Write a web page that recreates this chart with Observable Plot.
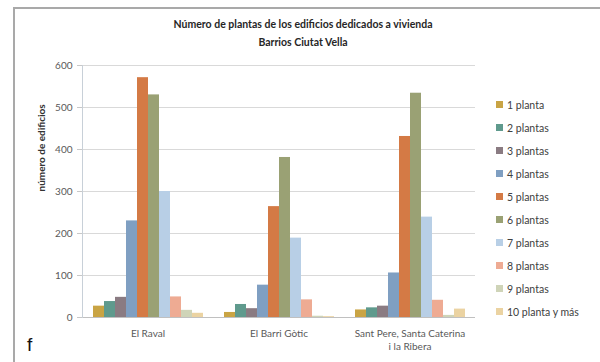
<!DOCTYPE html>
<html>
<head>
<meta charset="utf-8">
<script src="https://cdn.jsdelivr.net/npm/d3@7"></script>
<script src="https://cdn.jsdelivr.net/npm/@observablehq/plot@0.6"></script>
<style>
  body { margin: 0; background: #fff; }
  #root { position: relative; width: 600px; height: 362px; overflow: hidden; background: #fff; font-family: Lato, "Open Sans", sans-serif; }
  #frame { position: absolute; left: 13px; top: 7px; width: 600px; height: 420px; border: 2px solid #a9a9a9; box-sizing: border-box; }
  #title { position: absolute; top: 15px; left: 0; width: 606px; text-align: center; font-weight: bold; font-size: 10.5px; line-height: 18px; color: #262626; }
  #chart { position: absolute; top: 55px; left: 0; }
  #legend { position: absolute; left: 496px; top: 93px; font-size: 10.5px; color: #404040; }
  .item { height: 23px; display: flex; align-items: center; }
  .sw { width: 7px; height: 7px; margin-right: 4px; }
  #f { position: absolute; left: 27px; top: 334px; font: 19px "Liberation Sans", sans-serif; color: #111; }
</style>
</head>
<body>
<div id="root">
  <div id="frame"></div>
  <div id="title">Número de plantas de los edificios dedicados a vivienda<br>Barrios Ciutat Vella</div>
  <div id="chart"></div>
  <div id="legend"></div>
  <div id="f">f</div>
</div>
<script>
const districts = ["El Raval", "El Barri Gòtic", "Sant Pere, Santa Caterina i la Ribera"];
const districtLabels = ["El Raval", "El Barri Gòtic", "Sant Pere, Santa Caterina\ni la Ribera"];
const series = ["1 planta", "2 plantas", "3 plantas", "4 plantas", "5 plantas", "6 plantas", "7 plantas", "8 plantas", "9 plantas", "10 planta y más"];
const colors = ["#c9a444", "#5f9a8d", "#8a7b82", "#7f9fc2", "#d47a45", "#9aa174", "#b8cfe6", "#eeab93", "#cfd4b8", "#ebd3a2"];
const raval = [27, 38, 48, 230, 571, 530, 300, 49, 17, 10];
const gotic = [12, 31, 21, 77, 264, 381, 189, 42, 3, 2];
const santPere = [18, 23, 27, 106, 431, 534, 239, 41, 5, 20];
const yTicks = [0, 100, 200, 300, 400, 500, 600];

const valuesByDistrict = [raval, gotic, santPere];
const data = [];
districts.forEach((d, i) => series.forEach((s, j) => data.push({district: d, series: s, value: valuesByDistrict[i][j]})));

const chart = Plot.plot({
  width: 600,
  height: 307,
  marginLeft: 81,
  marginRight: 124,
  marginTop: 10,
  marginBottom: 45,
  style: {fontFamily: "Lato, 'Open Sans', sans-serif", fontSize: "10px", color: "#595959", background: "transparent", overflow: "visible"},
  fx: {domain: districts, padding: 0, label: null},
  x: {domain: series, paddingInner: 0, paddingOuter: 0.78, axis: null},
  y: {domain: [0, 600], label: null},
  color: {domain: series, range: colors},
  marks: [
    Plot.gridY(yTicks.slice(1), {stroke: "#d9d9d9", strokeOpacity: 1}),
    Plot.barY(data, {fx: "district", x: "series", y: "value", fill: "series"}),
    Plot.ruleY([0], {stroke: "#c0c0c0"}),
    Plot.frame({anchor: "left", facetAnchor: "left", stroke: "#c8d0d8"}),
    Plot.axisY(yTicks, {anchor: "left", tickSize: 5, tickPadding: 5, stroke: "#c8c8c8", fill: "#595959", label: null, fontSize: 10}),
    Plot.text([districts[0]], {fx: d => d, text: () => "número de edificios", frameAnchor: "left", rotate: -90, dx: -41, fontWeight: "bold", fill: "#333", fontSize: 10}),
    Plot.axisFx({anchor: "bottom", tickSize: 0, tickPadding: 10, label: null, fill: "#595959", fontSize: 10, lineHeight: 1.3, tickFormat: d => districtLabels[districts.indexOf(d)]})
  ]
});
document.getElementById("chart").appendChild(chart);

const legend = document.getElementById("legend");
series.forEach((s, i) => {
  const item = document.createElement("div");
  item.className = "item";
  const sw = document.createElement("span");
  sw.className = "sw";
  sw.style.background = colors[i];
  const t = document.createElement("span");
  t.textContent = s;
  item.appendChild(sw);
  item.appendChild(t);
  legend.appendChild(item);
});
</script>
</body>
</html>
